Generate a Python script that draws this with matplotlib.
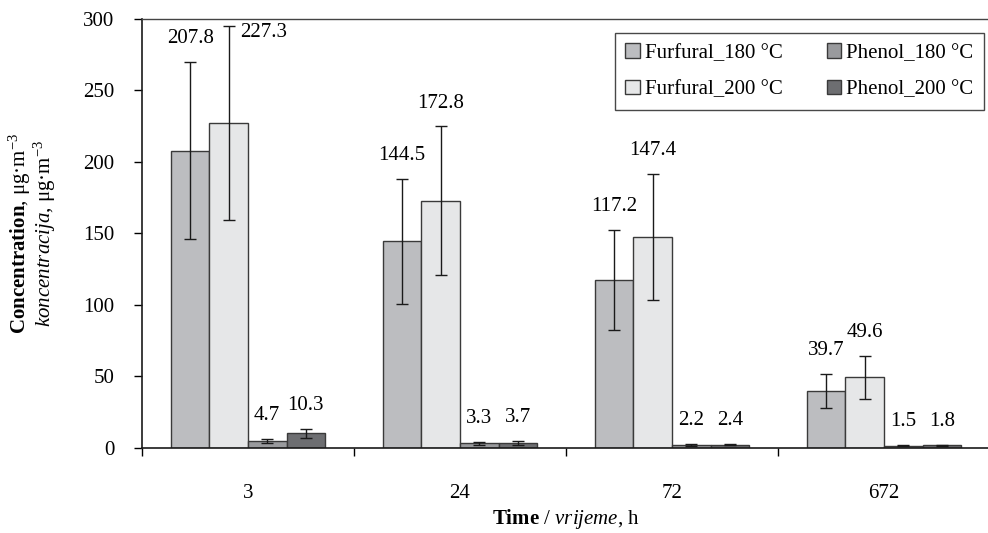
import matplotlib
matplotlib.use("Agg")
import matplotlib.pyplot as plt
import numpy as np

plt.rcParams['font.family'] = ['Liberation Serif', 'DejaVu Serif']
plt.rcParams['mathtext.fontset'] = 'custom'
plt.rcParams['mathtext.rm'] = 'Liberation Serif'
plt.rcParams['mathtext.it'] = 'Liberation Serif:style=italic'
plt.rcParams['mathtext.bf'] = 'Liberation Serif:weight=bold'

# data
times = ['3', '24', '72', '672']
series_names = ['Furfural_180 °C', 'Furfural_200 °C', 'Phenol_180 °C', 'Phenol_200 °C']
furfural_180 = [207.8, 144.5, 117.2, 39.7]
furfural_200 = [227.3, 172.8, 147.4, 49.6]
phenol_180 = [4.7, 3.3, 2.2, 1.5]
phenol_200 = [10.3, 3.7, 2.4, 1.8]
furfural_180_err = [62.0, 43.5, 35.0, 12.0]
furfural_200_err = [68.0, 52.0, 44.0, 15.0]
phenol_180_err = [1.5, 1.0, 0.6, 0.4]
phenol_200_err = [3.0, 1.5, 0.6, 0.4]

values = [furfural_180, furfural_200, phenol_180, phenol_200]
errors = [furfural_180_err, furfural_200_err, phenol_180_err, phenol_200_err]
colors = ['#bcbdc0', '#e6e7e8', '#999a9d', '#6d6e71']

FS = 15

fig = plt.figure(figsize=(9.88, 5.33), dpi=100)
ax = fig.add_axes([0.1437, 0.1595, 0.8583, 0.805])

x = np.arange(len(times))
width = 1 / 5.5
offsets = (np.arange(4) - 1.5) * width

for vals, errs, name, col, off in zip(values, errors, series_names, colors, offsets):
    ax.bar(x + off, vals, width, color=col, edgecolor='#3a3a3a', linewidth=1.0,
           label=name, zorder=2)
    ax.errorbar(x + off, vals, yerr=errs, fmt='none', ecolor='#1a1a1a',
                elinewidth=1.0, capsize=4, capthick=1.0, zorder=3)
    for xi, v, e in zip(x + off, vals, errs):
        if v + e > 280:
            # no room above, label goes beside the error bar
            ax.annotate(f'{v:.1f}', (xi, v + e), xytext=(8, -5),
                        textcoords='offset points', ha='left', va='center',
                        fontsize=FS)
        else:
            ax.annotate(f'{v:.1f}', (xi, v + e), xytext=(0, 10),
                        textcoords='offset points', ha='center', va='bottom',
                        fontsize=FS)

ax.set_xlim(-0.5, 3.5)
ax.set_ylim(0, 300)
ax.set_yticks(np.arange(0, 301, 50))
ax.set_xticks(np.arange(-0.5, 3.6, 1.0))
ax.set_xticklabels([])
ax.set_xticks(x, minor=True)
ax.set_xticklabels(times, minor=True)
ax.tick_params(axis='x', which='minor', length=0, pad=26, labelsize=FS)
ax.tick_params(axis='x', which='major', direction='out', length=6, width=1)
ax.tick_params(axis='y', direction='out', length=6, width=1, labelsize=FS, pad=14)

for side in ['left', 'bottom']:
    ax.spines[side].set_linewidth(1.2)
    ax.spines[side].set_color('#1a1a1a')
ax.spines['top'].set_linewidth(1.0)
ax.spines['top'].set_color('#444444')
ax.spines['right'].set_visible(False)

ax.set_xlabel(r'$\mathbf{Time}$ / $\mathit{vrijeme}$, h', fontsize=FS)
ax.xaxis.set_label_coords(0.5, -0.138)
ax.set_ylabel('$\\mathbf{Concentration}$, μg·m$^{-3}$\n$\\mathit{koncentracija}$, μg·m$^{-3}$',
              fontsize=FS, linespacing=0.95)
ax.yaxis.set_label_coords(-0.0986, 0.5)

leg = ax.legend(loc='upper right', bbox_to_anchor=(0.993, 0.967), borderaxespad=0,
                ncol=2, fontsize=FS, frameon=True, fancybox=False, edgecolor='#1a1a1a',
                handlelength=0.7, handleheight=0.7, handletextpad=0.25,
                columnspacing=2.1, borderpad=0.5, labelspacing=0.8)
leg.get_frame().set_linewidth(1.0)

fig.savefig('out.png', dpi=100)
